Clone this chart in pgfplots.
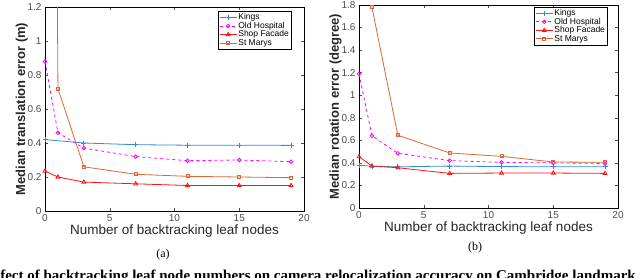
\documentclass[border=0pt]{standalone}
\usepackage{pgfplots}
\pgfplotsset{compat=1.18}
\usepackage{fontspec}
\setmainfont{Liberation Sans}
\newfontfamily\serif{Liberation Serif}
\definecolor{cKings}{RGB}{50,140,210}
\definecolor{cOld}{RGB}{255,0,255}
\definecolor{cShop}{RGB}{250,20,20}
\definecolor{cStM}{RGB}{225,100,50}
\pgfplotsset{
  myaxis/.style={
    scale only axis, width=259pt,
    xmin=0, xmax=20, ymin=0,
    xtick={0,5,10,15,20},
    tick align=inside, tick pos=both,
    major tick length=3pt,
    axis line style={black, line width=0.5pt},
    tick style={black!70, line width=0.4pt},
    ticklabel style={font=\fontsize{10}{12}\selectfont, text=black!70},
    /pgf/number format/assume math mode=true,
    xlabel={Number of backtracking leaf nodes},
    xlabel style={font=\fontsize{13.5}{15}\selectfont, text=black!85, yshift=4pt},
    ylabel style={font=\bfseries\fontsize{13}{15}\selectfont, text=black!85, yshift=-7pt},
    legend cell align=left,
    legend style={font=\fontsize{8.5}{9}\selectfont, draw=black, line width=0.5pt, inner sep=1pt, row sep=-1.5pt, nodes={inner sep=1.2pt}},
    clip=true,
  },
  kings/.style={color=cKings, line width=0.8pt, mark=+, mark size=2.5pt, mark options={solid}},
  oldh/.style={color=cOld, line width=0.8pt, dashed, mark=o, mark size=1.8pt, mark options={solid}},
  shop/.style={color=cShop, line width=0.8pt, mark=triangle, mark size=2.2pt, mark options={solid}},
  stm/.style={color=cStM, line width=0.8pt, mark=square, mark size=1.5pt, mark options={solid}},
}
\begin{document}
\begin{tikzpicture}
\useasboundingbox (0pt,0pt) rectangle (640pt,277pt);
\begin{axis}[myaxis, at={(45pt,66pt)}, anchor=south west, height=204pt, ymax=1.2,
  ytick={0,0.2,0.4,0.6,0.8,1,1.2},
  yticklabels={0,0.2,0.4,0.6,0.8,1,1.2},
  ylabel={Median translation error (m)},
  legend style={at={(rel axis cs:0.668,0.98)}, anchor=north west}]
\addplot[kings] coordinates {(0,0.42) (3,0.40) (7,0.39) (11,0.387) (15,0.387) (19,0.386)};
\addlegendentry{Kings}
\addplot[oldh] coordinates {(0,0.88) (1,0.46) (3,0.37) (7,0.32) (11,0.296) (15,0.30) (19,0.29)};
\addlegendentry{Old Hospital}
\addplot[shop] coordinates {(0,0.235) (1,0.20) (3,0.17) (7,0.16) (11,0.15) (15,0.15) (19,0.15)};
\addlegendentry{Shop Facade}
\addplot[stm] coordinates {(0,12) (1,0.72) (3,0.26) (7,0.216) (11,0.204) (15,0.20) (19,0.196)};
\addlegendentry{St Marys}
\end{axis}
\begin{axis}[myaxis, at={(359pt,69pt)}, anchor=south west, height=203pt, ymax=1.8,
  ytick={0,0.2,0.4,0.6,0.8,1,1.2,1.4,1.6,1.8},
  yticklabels={0,0.2,0.4,0.6,0.8,1,1.2,1.4,1.6,1.8},
  ylabel={Median rotation error (degree)},
  legend style={at={(rel axis cs:0.676,0.99)}, anchor=north west}]
\addplot[kings] coordinates {(0,0.38) (1,0.37) (3,0.365) (7,0.372) (11,0.367) (15,0.366) (19,0.366)};
\addlegendentry{Kings}
\addplot[oldh] coordinates {(0,1.19) (1,0.64) (3,0.485) (7,0.42) (11,0.405) (15,0.40) (19,0.395)};
\addlegendentry{Old Hospital}
\addplot[shop] coordinates {(0,0.455) (1,0.372) (3,0.357) (7,0.307) (11,0.31) (15,0.31) (19,0.307)};
\addlegendentry{Shop Facade}
\addplot[stm] coordinates {(0,12) (1,1.78) (3,0.645) (7,0.488) (11,0.458) (15,0.408) (19,0.405)};
\addlegendentry{St Marys}
\end{axis}
\node[font=\serif\fontsize{12}{14}\selectfont] at (163pt,22pt) {(a)};
\node[font=\serif\fontsize{12}{14}\selectfont] at (475pt,29pt) {(b)};
\node[font=\serif\bfseries\fontsize{15}{17}\selectfont, anchor=base, inner sep=0pt] at (318pt,-3pt) {fect of backtracking leaf node numbers on camera relocalization accuracy on Cambridge landmark};
\end{tikzpicture}
\end{document}
